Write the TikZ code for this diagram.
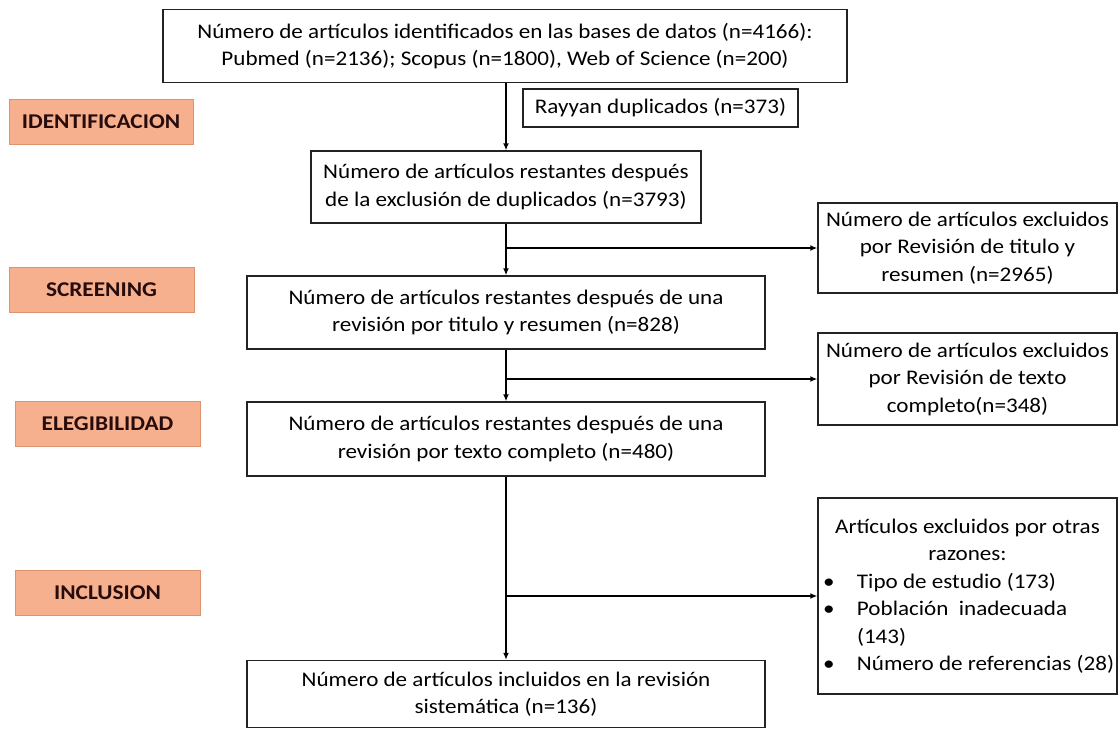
\documentclass[tikz,border=0pt]{standalone}
\usepackage{fontspec}
\setmainfont{Carlito}[FakeStretch=1.11]
\usetikzlibrary{arrows.meta}
\definecolor{salmon}{RGB}{246,176,142}
\definecolor{salmonline}{RGB}{220,148,110}
\definecolor{boxline}{RGB}{35,35,35}
\definecolor{stagetext}{RGB}{40,12,12}

\begin{document}
\begin{tikzpicture}[x=1pt, y=-1pt,
  box/.style={draw=boxline, line width=1.4pt, align=center, inner sep=0pt, font=\fontsize{20.8}{27.5}\selectfont},
  stage/.style={draw=salmonline, fill=salmon, line width=1pt, minimum width=185pt, minimum height=45pt, font=\fontsize{21}{25}\selectfont\bfseries, text=stagetext},
  arr/.style={line width=2pt, -{Latex[length=7pt,width=6pt]}}]
\useasboundingbox (0,0) rectangle (1120,729);

% stages
\node[stage, minimum width=184pt] (s1) at (101,122) {IDENTIFICACION};
\node[stage] (s2) at (101.5,290) {SCREENING};
\node[stage] (s3) at (107.5,424) {ELEGIBILIDAD};
\node[stage] (s4) at (107.5,593) {INCLUSION};

% main column
\node[box, minimum width=684pt, minimum height=73pt] (top) at (505,46)
  {Número de artículos identificados en las bases de datos (n=4166):\\ Pubmed (n=2136); Scopus (n=1800), Web of Science (n=200)};
\node[box, minimum width=275pt, minimum height=38pt] (ray) at (660.5,108) {Rayyan duplicados (n=373)};
\node[box, minimum width=390pt, minimum height=72pt] (b2) at (506,187)
  {Número de artículos restantes después\\ de la exclusión de duplicados (n=3793)};
\node[box, minimum width=518pt, minimum height=73pt] (b3) at (506,312.5)
  {Número de artículos restantes después de una\\ revisión por titulo y resumen (n=828)};
\node[box, minimum width=518pt, minimum height=74pt] (b4) at (506,439)
  {Número de artículos restantes después de una\\ revisión por texto completo (n=480)};
\node[box, minimum width=518pt, minimum height=67pt] (fin) at (506,694)
  {Número de artículos incluidos en la revisión\\ sistemática (n=136)};

% excluded
\node[box, minimum width=299pt, minimum height=90pt] (e1) at (967.5,248)
  {Número de artículos excluidos\\ por Revisión de titulo y\\ resumen (n=2965)};
\node[box, minimum width=299pt, minimum height=92pt] (e2) at (967.5,379)
  {Número de artículos excluidos\\ por Revisión de texto\\ completo(n=348)};
\node[box, minimum width=299pt, minimum height=196pt, text width=297pt, align=none] (e3) at (967.5,596)
  {\centering Artículos excluidos por otras\\ razones:\par
   \raggedright
   \hspace*{4pt}\makebox[34pt][l]{•}Tipo de estudio (173)\\
   \hspace*{4pt}\makebox[34pt][l]{•}Población\ \ inadecuada\\
   \hspace*{38pt}(143)\\
   \hspace*{4pt}\makebox[34pt][l]{•}Número de referencias (28)\par
   \vspace*{10pt}};

\coordinate (ax) at (506,0);
\draw[arr] (ax |- top.south) -- (ax |- b2.north);
\draw[arr] (ax |- b2.south) -- (ax |- b3.north);
\draw[arr] (ax |- e1.west) -- (e1.west);
\draw[arr] (ax |- b3.south) -- (ax |- b4.north);
\draw[arr] (ax |- e2.west) -- (e2.west);
\draw[arr] (ax |- b4.south) -- (ax |- fin.north);
\draw[arr] (ax |- e3.west) -- (e3.west);
\end{tikzpicture}
\end{document}
